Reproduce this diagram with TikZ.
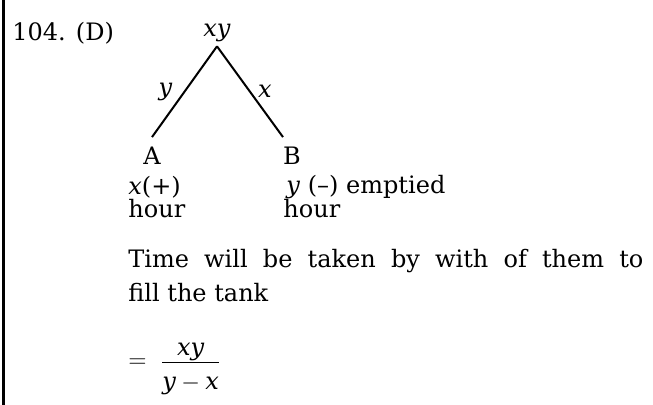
\documentclass[tikz,border=0pt]{standalone}
\usepackage{fontspec}
\setmainfont{DejaVu Serif}
\usetikzlibrary{positioning}

\begin{document}
\begin{tikzpicture}[x=0.5pt, y=-0.5pt,
    txt/.style={inner sep=0pt, font=\fontsize{12}{14}\selectfont},
    branch/.style={line width=1pt}]

      % Fix the size of the picture.
      \useasboundingbox (0,0) rectangle (653,405);

      % Draw the rule on the left side.
      \draw[line width=1.5pt] (3,0) -- (3,405);

      % Question number and the top of the tree.
      \node[txt, anchor=base west] (qno) at (12,41) {104. (D)};
      \node[txt, anchor=base, outer sep=2pt] (xy) at (217,37) {\textit{xy}};

      % The two pipes A and B.
      \node[txt, anchor=base] (A) at (152,165) {A};
      \node[txt, anchor=base] (B) at (292,165) {B};

      % Draw the branches with their labels.
      \draw[branch] (xy.south) -- ([yshift=5pt]A.north)
        node[txt, midway, left=5.5pt] {\textit{y}};
      \draw[branch] (xy.south) -- ([xshift=-4.5pt, yshift=5pt]B.north)
        node[txt, midway, right=3.5pt] {\textit{x}};

      % Rates under A and B.
      \node[txt, anchor=base west] (xplus) at (128,195) {\textit{x}(+)};
      \node[txt, anchor=base west] (yminus) at (286,194) {\textit{y} (–) emptied};
      \node[txt, anchor=base west] (hourA) at (128,218) {hour};
      \node[txt, anchor=base west] (hourB) at (283,218) {hour};

      % The answer.
      \node[txt, anchor=base west, text width=257.5pt, align=justify,
        font=\fontsize{12}{17}\selectfont] (time) at (128,268)
        {Time will be taken by with of them to \linebreak fill the tank};
      \node[txt, anchor=base west] (result) at (128,368)
        {$=\;\frac{\textstyle\textit{xy}}
          {\textstyle\rule{0pt}{13pt}\textit{y} - \textit{x}}$};
    \end{tikzpicture}
\end{document}
